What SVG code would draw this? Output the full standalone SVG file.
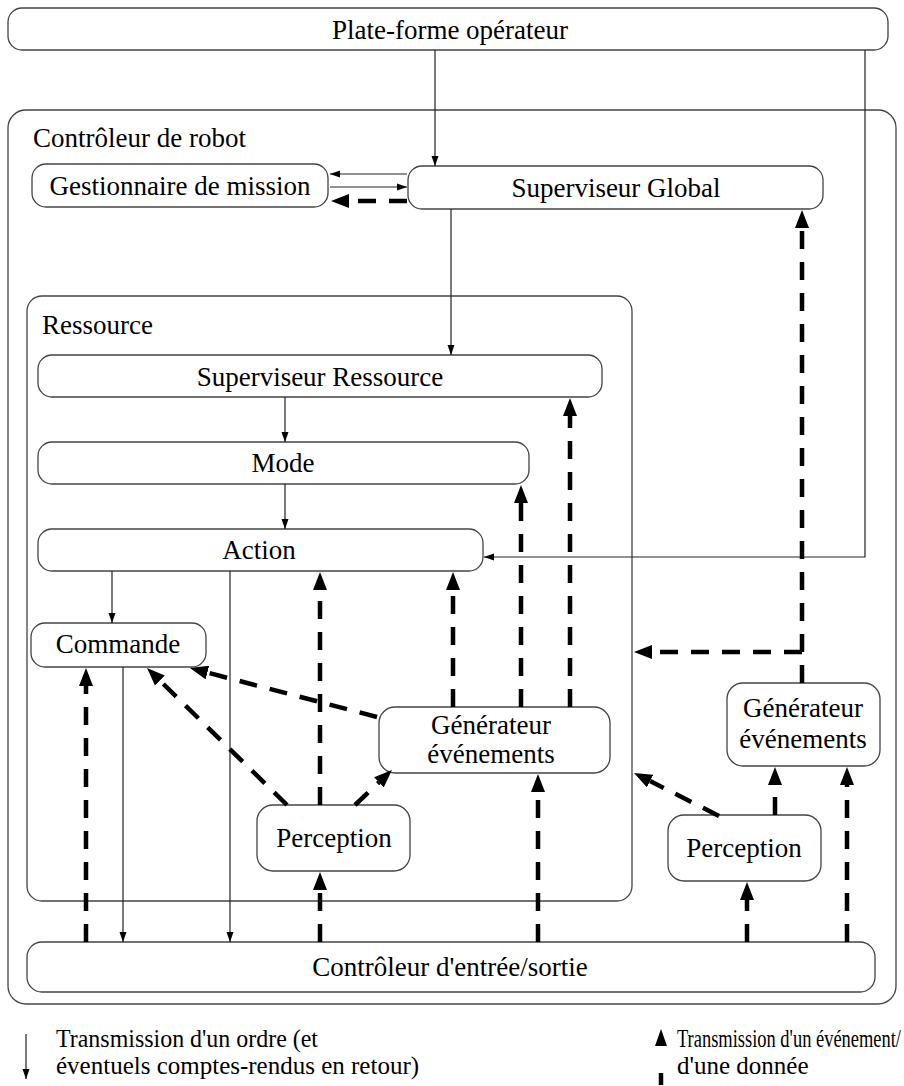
<svg xmlns="http://www.w3.org/2000/svg" width="904" height="1086" viewBox="0 0 904 1086">
  <style>
    text { font-family: "Liberation Serif", "Times New Roman", serif; font-size: 27px; fill: #000; }
    .c { text-anchor: middle; }
    .legend { font-size: 25px; }
    .box { fill: #fff; stroke: #444; stroke-width: 1.3; }
    .frame { fill: none; stroke: #444; stroke-width: 1.3; }
    .thin { fill: none; stroke: #222; stroke-width: 1.2; marker-end: url(#tip); }
    .dash { fill: none; stroke: #000; stroke-width: 4.5; stroke-dasharray: 18 13; marker-end: url(#head); }
  </style>
  <defs>
    <marker id="tip" markerUnits="userSpaceOnUse" markerWidth="10" markerHeight="8" refX="10" refY="4" orient="auto">
      <path d="M0,0.5 L10,4 L0,7.5 z" fill="#000"/>
    </marker>
    <marker id="head" markerUnits="userSpaceOnUse" markerWidth="18" markerHeight="14" refX="0" refY="7" orient="auto">
      <path d="M0,0 L18,7 L0,14 z" fill="#000"/>
    </marker>
  </defs>

  <rect width="904" height="1086" fill="#fff"/>

  <g id="plateforme">
    <rect class="box" x="8" y="8" width="880" height="42" rx="14"/>
    <text class="c" x="450" y="39">Plate-forme opérateur</text>
  </g>

  <g id="controleur-robot">
    <rect class="frame" x="8" y="110" width="888" height="894" rx="18"/>
    <text x="33" y="147">Contrôleur de robot</text>
  </g>

  <g id="ressource">
    <rect class="frame" x="27" y="296" width="605" height="605" rx="15"/>
    <text x="42" y="334">Ressource</text>
  </g>

  <g id="gestionnaire-mission">
    <rect class="box" x="32" y="164" width="296" height="43" rx="14"/>
    <text class="c" x="180" y="195">Gestionnaire de mission</text>
  </g>

  <g id="superviseur-global">
    <rect class="box" x="408" y="166" width="415" height="43" rx="14"/>
    <text class="c" x="616" y="197">Superviseur Global</text>
  </g>

  <g id="superviseur-ressource">
    <rect class="box" x="38" y="355" width="564" height="42" rx="14"/>
    <text class="c" x="320" y="386">Superviseur Ressource</text>
  </g>

  <g id="mode">
    <rect class="box" x="38" y="442" width="491" height="42" rx="14"/>
    <text class="c" x="283" y="472">Mode</text>
  </g>

  <g id="action">
    <rect class="box" x="38" y="529" width="445" height="42" rx="14"/>
    <text class="c" x="259" y="559">Action</text>
  </g>

  <g id="commande">
    <rect class="box" x="31" y="623" width="175" height="44" rx="14"/>
    <text class="c" x="118" y="653">Commande</text>
  </g>

  <g id="generateur-ressource">
    <rect class="box" x="379" y="707" width="231" height="66" rx="16"/>
    <text class="c" x="491" y="734">Générateur</text>
    <text class="c" x="491" y="763">événements</text>
  </g>

  <g id="perception-ressource">
    <rect class="box" x="257" y="805" width="153" height="66" rx="16"/>
    <text class="c" x="334" y="847">Perception</text>
  </g>

  <g id="generateur-robot">
    <rect class="box" x="727" y="683" width="153" height="83" rx="16"/>
    <text class="c" x="803" y="717">Générateur</text>
    <text class="c" x="803" y="748">événements</text>
  </g>

  <g id="perception-robot">
    <rect class="box" x="668" y="815" width="153" height="66" rx="16"/>
    <text class="c" x="744" y="857">Perception</text>
  </g>

  <g id="controleur-es">
    <rect class="box" x="27" y="942" width="848" height="50" rx="15"/>
    <text class="c" x="450" y="976">Contrôleur d'entrée/sortie</text>
  </g>

  <g id="connectors">
    <!-- orders (thin) -->
    <line class="thin" x1="435" y1="50" x2="435" y2="166"/>
    <polyline class="thin" points="865,50 865,557 484,557"/>
    <line class="thin" x1="407" y1="174" x2="330" y2="174"/>
    <line class="thin" x1="330" y1="187" x2="407" y2="187"/>
    <line class="thin" x1="451" y1="209" x2="451" y2="355"/>
    <line class="thin" x1="285" y1="397" x2="285" y2="442"/>
    <line class="thin" x1="285" y1="484" x2="285" y2="529"/>
    <line class="thin" x1="112" y1="571" x2="112" y2="623"/>
    <line class="thin" x1="230" y1="571" x2="230" y2="942"/>
    <line class="thin" x1="123" y1="667" x2="123" y2="942"/>

    <!-- events / data (dashed) -->
    <line class="dash" x1="407" y1="201" x2="349" y2="201"/>
    <line class="dash" x1="86" y1="942" x2="86" y2="686"/>
    <line class="dash" x1="287" y1="805" x2="159.9" y2="680.6"/>
    <line class="dash" x1="377" y1="717" x2="207.4" y2="672.6"/>
    <line class="dash" x1="320" y1="805" x2="320" y2="590"/>
    <line class="dash" x1="355" y1="805" x2="378.9" y2="782.4"/>
    <line class="dash" x1="453" y1="707" x2="453" y2="590"/>
    <line class="dash" x1="521" y1="707" x2="521" y2="503"/>
    <line class="dash" x1="570" y1="707" x2="570" y2="416"/>
    <line class="dash" x1="538" y1="942" x2="538" y2="792"/>
    <line class="dash" x1="320" y1="942" x2="320" y2="890"/>
    <line class="dash" x1="802" y1="683" x2="802" y2="228"/>
    <line class="dash" x1="802" y1="652" x2="652" y2="652"/>
    <line class="dash" x1="719" y1="816" x2="650.1" y2="781.1"/>
    <line class="dash" x1="775" y1="815" x2="775" y2="785"/>
    <line class="dash" x1="847" y1="942" x2="847" y2="785"/>
    <line class="dash" x1="747" y1="942" x2="747" y2="900"/>
  </g>

  <g id="legende">
    <line class="thin" x1="26" y1="1034" x2="26" y2="1079"/>
    <text class="legend" x="56" y="1047" textLength="262" lengthAdjust="spacingAndGlyphs">Transmission d'un ordre (et</text>
    <text class="legend" x="56" y="1074">éventuels comptes-rendus en retour)</text>
    <line x1="661" y1="1085" x2="661" y2="1073" stroke="#000" stroke-width="4.5"/>
    <path d="M655,1046 L661,1029 L667,1046 z" fill="#000"/>
    <text class="legend" x="677" y="1047" textLength="224" lengthAdjust="spacingAndGlyphs">Transmission d'un événement/</text>
    <text class="legend" x="677" y="1074">d'une donnée</text>
  </g>
</svg>
